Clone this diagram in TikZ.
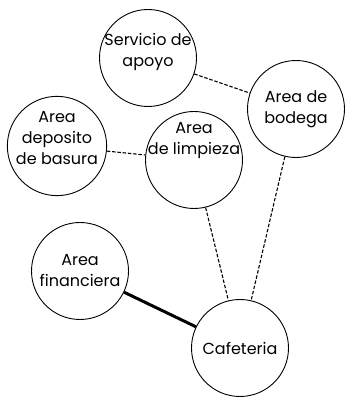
\documentclass[tikz,border=0pt]{standalone}
\usepackage{fontspec}
\setmainfont{Poppins}
\usepackage{tikz}
\usetikzlibrary{positioning}

\begin{document}
\begin{tikzpicture}[
  x=1pt, y=1pt,
  every node/.style={font=\fontsize{16}{21}\selectfont},
  area/.style={
    draw, circle, line width=0.9pt, align=center,
    minimum size=97pt, inner sep=-3pt, fill=white,
  },
  rel/.style={line width=1.1pt, dash pattern=on 3.5pt off 1.8pt},
  fuerte/.style={line width=3pt},
]
\useasboundingbox (0,0) rectangle (346,398);

\node[area] (servicio) at (148,340) {Servicio de\\apoyo\\[-4pt]};
\node[area] (bodega) at (296,289) {Area de\\bodega};
\node[area] (deposito) at (57,252) {Area\\deposito\\de basura\\[-4pt]};
\node[area, label={[align=center, yshift=19pt]center:Area\\de limpieza}] (limpieza) at (194,238) {};
\node[area] (financiera) at (80,127) {Area\\financiera};
\node[area] (cafeteria) at (240,50) {Cafeteria};

\draw[rel] (servicio) -- (bodega);
\draw[rel] (deposito) -- (limpieza);
\draw[rel] (limpieza) -- (cafeteria);
\draw[rel] (bodega) -- (cafeteria);
\draw[fuerte] (financiera) -- (cafeteria);

\end{tikzpicture}
\end{document}
